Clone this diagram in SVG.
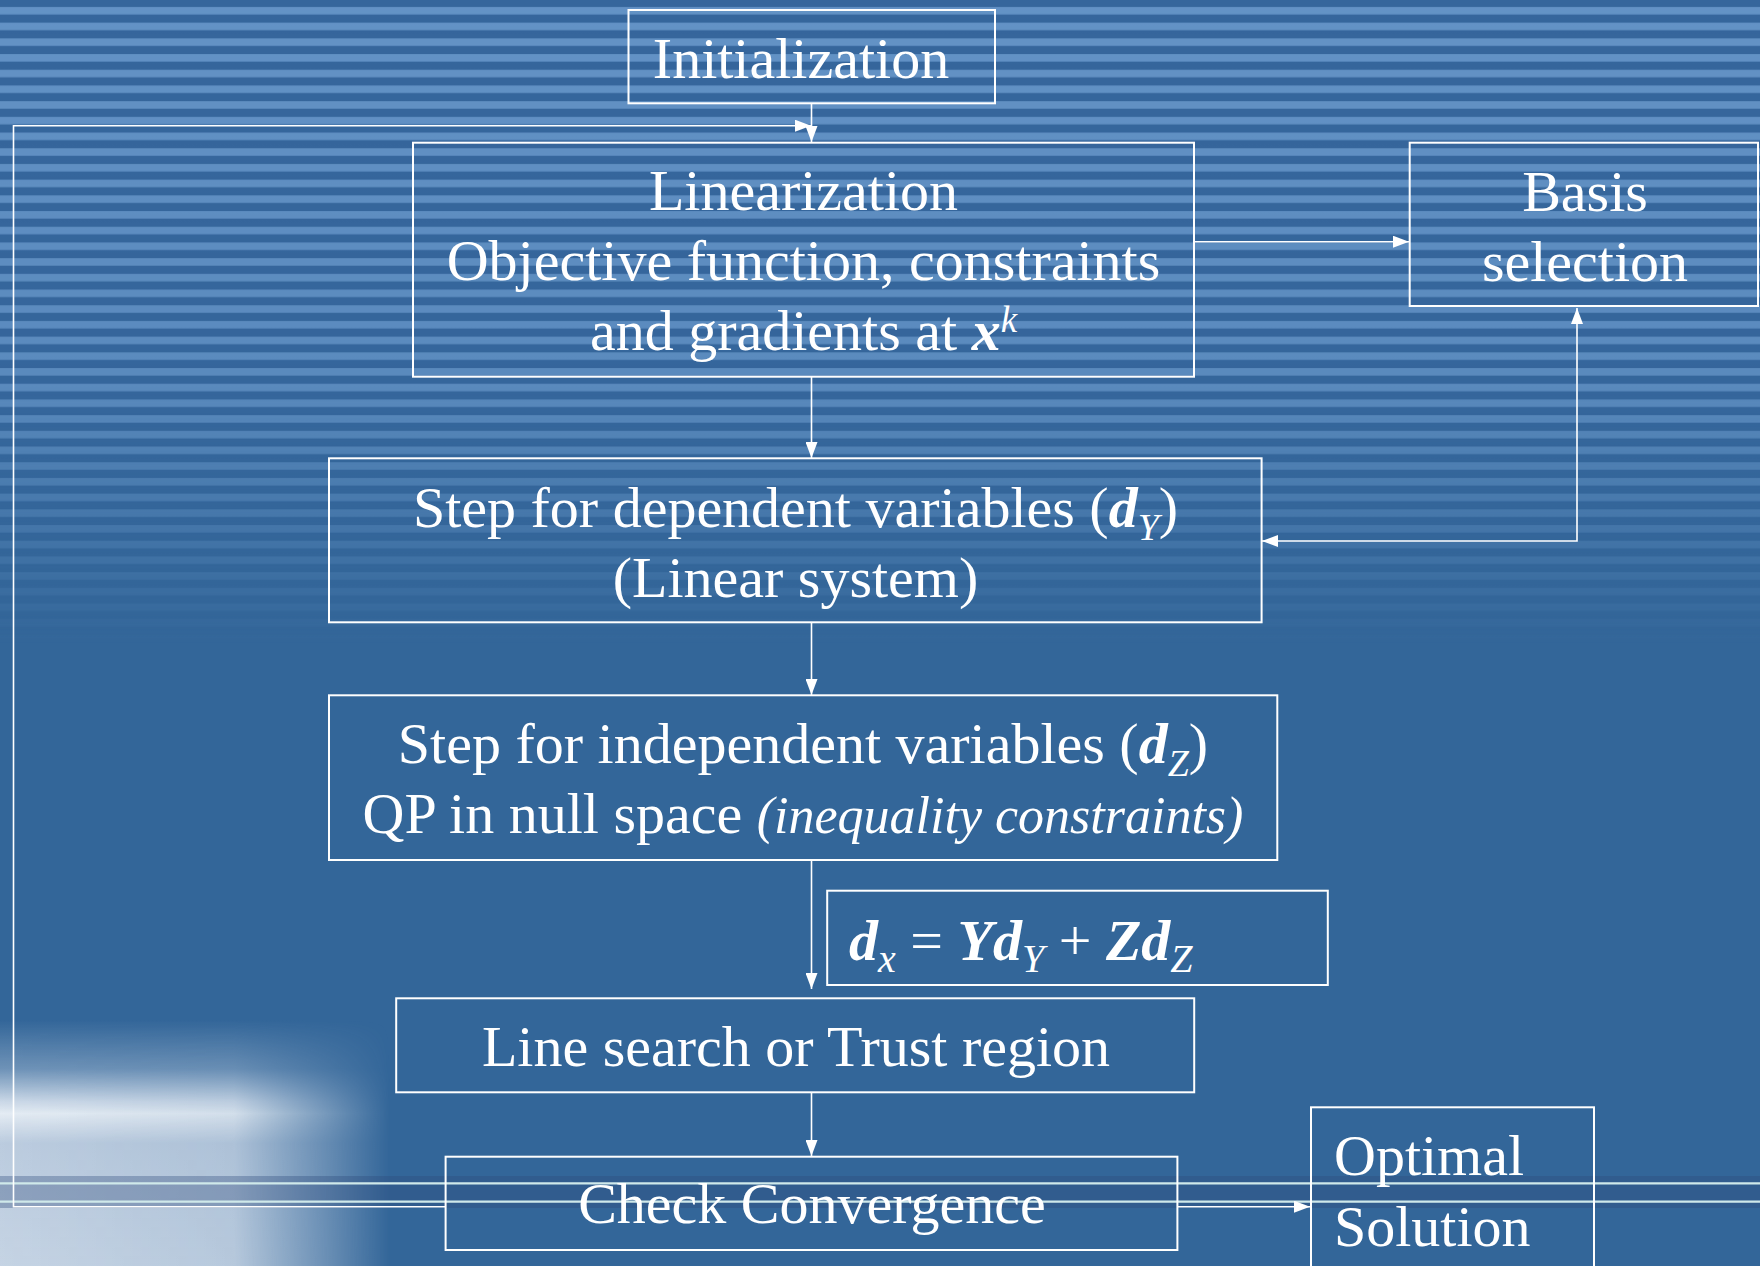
<svg xmlns="http://www.w3.org/2000/svg" width="1760" height="1266" viewBox="0 0 1760 1266">
<defs>
<style>
.box{fill:none;stroke:#ffffff;stroke-width:2}
.t{font-family:"Liberation Serif","Times New Roman",serif;font-size:58px;fill:#ffffff}
.c{fill:none;stroke:#ffffff;stroke-width:1.6}
.bi{font-weight:bold;font-style:italic}
.it{font-style:italic}
</style>
<pattern id="stripes" x="0" y="2" width="40" height="15.7" patternUnits="userSpaceOnUse">
<rect x="0" y="0" width="40" height="15.7" fill="#36669c"/>
<rect x="0" y="5" width="40" height="7.5" fill="#6493c6"/>
</pattern>
<linearGradient id="fadeG" x1="0" y1="0" x2="0" y2="700" gradientUnits="userSpaceOnUse">
<stop offset="0" stop-color="#fff" stop-opacity="1"/>
<stop offset="0.55" stop-color="#fff" stop-opacity="0.8"/>
<stop offset="0.78" stop-color="#fff" stop-opacity="0.3"/>
<stop offset="0.92" stop-color="#fff" stop-opacity="0"/>
</linearGradient>
<mask id="fade" maskUnits="userSpaceOnUse" x="0" y="0" width="1760" height="1266">
<rect x="0" y="0" width="1760" height="700" fill="url(#fadeG)"/>
</mask>
<linearGradient id="glowV" x1="0" y1="1020" x2="0" y2="1266" gradientUnits="userSpaceOnUse">
<stop offset="0" stop-color="#dfe7f1" stop-opacity="0"/>
<stop offset="0.2" stop-color="#dfe7f1" stop-opacity="0.35"/>
<stop offset="0.33" stop-color="#e4ebf4" stop-opacity="0.85"/>
<stop offset="0.38" stop-color="#eef3f8" stop-opacity="0.95"/>
<stop offset="0.5" stop-color="#d4deeb" stop-opacity="0.85"/>
<stop offset="1" stop-color="#d6e0ec" stop-opacity="0.9"/>
</linearGradient>
<linearGradient id="glowH" x1="0" y1="0" x2="390" y2="0" gradientUnits="userSpaceOnUse">
<stop offset="0" stop-color="#fff" stop-opacity="1"/>
<stop offset="0.6" stop-color="#fff" stop-opacity="0.9"/>
<stop offset="0.85" stop-color="#fff" stop-opacity="0.35"/>
<stop offset="1" stop-color="#fff" stop-opacity="0"/>
</linearGradient>
<mask id="glowMask" maskUnits="userSpaceOnUse" x="0" y="0" width="1760" height="1266">
<rect x="0" y="1000" width="390" height="266" fill="url(#glowH)"/>
</mask>
<marker id="ah" viewBox="0 0 16 12" refX="16" refY="6" markerWidth="16" markerHeight="12" markerUnits="userSpaceOnUse" orient="auto-start-reverse">
<path d="M0,0 L16,6 L0,12 z" fill="#ffffff"/>
</marker>
</defs>

<!-- background -->
<rect x="0" y="0" width="1760" height="1266" fill="#336699"/>
<rect x="0" y="0" width="1760" height="700" fill="url(#stripes)" mask="url(#fade)"/>
<rect x="0" y="1020" width="390" height="246" fill="url(#glowV)" mask="url(#glowMask)"/>
<rect x="0" y="1176" width="1760" height="32" fill="#2f4b7a" opacity="0.35"/>
<line x1="0" y1="1183.3" x2="1760" y2="1183.3" stroke="#cfe9ea" stroke-width="2.2"/>
<line x1="0" y1="1201.7" x2="1760" y2="1201.7" stroke="#cfe9ea" stroke-width="2.2"/>

<!-- connectors -->
<g id="connectors">
<path class="c" d="M811.5,104 V142" marker-end="url(#ah)"/>
<path class="c" d="M445.6,1206.7 H13.5 V125.7 H811" stroke-width="2" marker-end="url(#ah)"/>
<path class="c" d="M1194,241.7 H1409" marker-end="url(#ah)"/>
<path class="c" d="M1262,541 H1577 V308" marker-start="url(#ah)" marker-end="url(#ah)"/>
<path class="c" d="M811.5,377 V458" marker-end="url(#ah)"/>
<path class="c" d="M811.5,622 V695" marker-end="url(#ah)"/>
<path class="c" d="M811.5,860 V989" marker-end="url(#ah)"/>
<path class="c" d="M811.5,1092 V1156" marker-end="url(#ah)"/>
<path class="c" d="M1177.4,1206.7 H1310" stroke-width="2" marker-end="url(#ah)"/>
</g>

<g id="initialization">
<rect class="box" x="628.5" y="10" width="366.5" height="93.3"/>
<text class="t" x="801" y="77.7" text-anchor="middle">Initialization</text>
</g>

<g id="linearization">
<rect class="box" x="413" y="142.7" width="781" height="234"/>
<text class="t" x="803.5" y="210" text-anchor="middle">Linearization</text>
<text class="t" x="803.5" y="280" text-anchor="middle">Objective function, constraints</text>
<text class="t" x="803.5" y="350" text-anchor="middle">and gradients at <tspan class="bi">x</tspan><tspan class="it" font-size="37" dy="-18">k</tspan></text>
</g>

<g id="basis">
<rect class="box" x="1409.7" y="142.7" width="348.3" height="163.3"/>
<text class="t" x="1585" y="210.7" text-anchor="middle">Basis</text>
<text class="t" x="1585" y="281" text-anchor="middle">selection</text>
</g>

<g id="step-dependent">
<rect class="box" x="329" y="458.3" width="932.6" height="164"/>
<text class="t" x="795.5" y="526.7" text-anchor="middle">Step for dependent variables (<tspan class="bi">d</tspan><tspan class="it" font-size="38" dy="13">Y</tspan><tspan dy="-13">)</tspan></text>
<text class="t" x="795.5" y="596.7" text-anchor="middle">(Linear system)</text>
</g>

<g id="step-independent">
<rect class="box" x="329" y="695.3" width="948.3" height="164.7"/>
<text class="t" x="803" y="763.3" text-anchor="middle">Step for independent variables (<tspan class="bi">d</tspan><tspan class="it" font-size="38" dy="13">Z</tspan><tspan dy="-13">)</tspan></text>
<text class="t" x="803" y="833.3" text-anchor="middle">QP in null space <tspan class="it" font-size="52">(inequality constraints)</tspan></text>
</g>

<g id="dx-formula">
<rect class="box" x="827.2" y="890.7" width="500.6" height="94.3"/>
<text class="t" x="849" y="960" font-size="60"><tspan class="bi">d</tspan><tspan class="it" font-size="40" dy="12">x</tspan><tspan dy="-12"> = </tspan><tspan class="bi">Yd</tspan><tspan class="it" font-size="40" dy="12">Y</tspan><tspan dy="-12"> + </tspan><tspan class="bi">Zd</tspan><tspan class="it" font-size="40" dy="12">Z</tspan></text>
</g>

<g id="line-search">
<rect class="box" x="396.2" y="998.3" width="798" height="94"/>
<text class="t" x="796" y="1066" text-anchor="middle">Line search or Trust region</text>
</g>

<g id="check-convergence">
<rect class="box" x="445.6" y="1156.7" width="731.8" height="93.3"/>
<text class="t" x="812" y="1223.3" text-anchor="middle">Check Convergence</text>
</g>

<g id="optimal-solution">
<rect class="box" x="1311" y="1107.3" width="283" height="170"/>
<text class="t" x="1334" y="1175">Optimal</text>
<text class="t" x="1334" y="1245.7">Solution</text>
</g>
</svg>
